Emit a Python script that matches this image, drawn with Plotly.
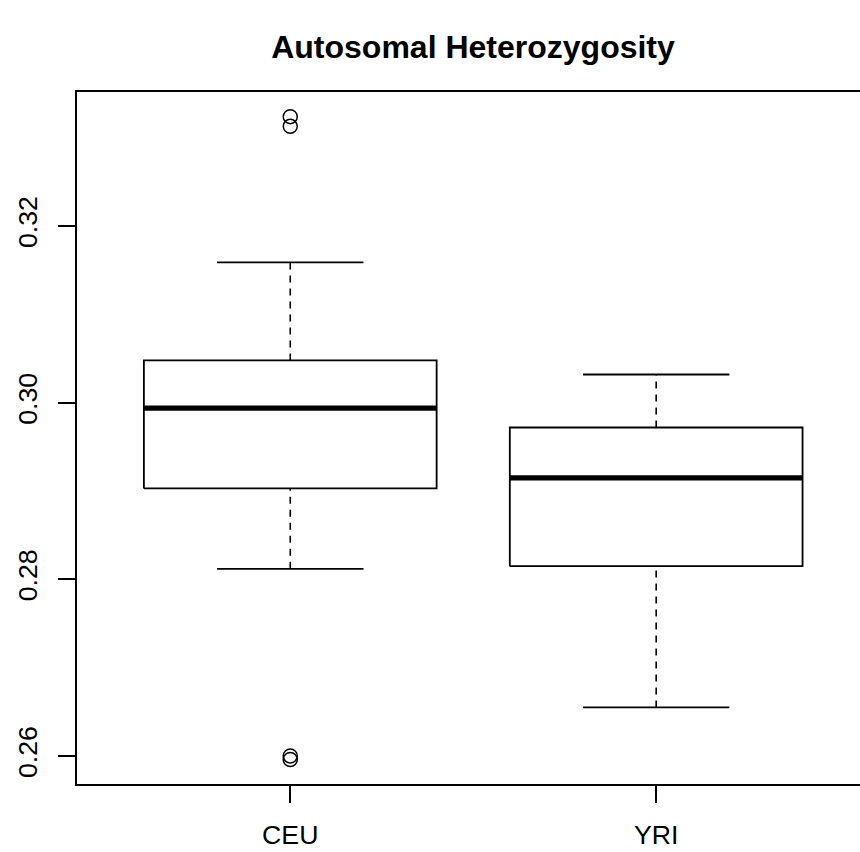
import plotly.graph_objects as go

# ---- data ----
groups = ["CEU", "YRI"]
positions = [1, 2]
q1 = [0.2903, 0.2815]
median = [0.2994, 0.2915]
q3 = [0.3048, 0.2972]
lower_whisker = [0.2812, 0.2655]
upper_whisker = [0.3159, 0.3032]
outlier_group = [1, 1, 1, 1]
outlier_values = [0.3324, 0.3313, 0.2600, 0.2596]
y_ticks = [0.26, 0.28, 0.30, 0.32]

BOX_HALF = 0.4
CAP_HALF = 0.2
FONT = "Liberation Sans, Arial, Helvetica, sans-serif"

fig = go.Figure()

for pos, a, m, b, lo, hi in zip(positions, q1, median, q3, lower_whisker, upper_whisker):
    # whiskers (dashed)
    fig.add_trace(go.Scatter(x=[pos, pos], y=[b, hi], mode="lines",
                             line=dict(color="black", width=1.6, dash="7px,6px"),
                             showlegend=False, hoverinfo="skip"))
    fig.add_trace(go.Scatter(x=[pos, pos], y=[lo, a], mode="lines",
                             line=dict(color="black", width=1.6, dash="7px,6px"),
                             showlegend=False, hoverinfo="skip"))
    # caps
    for v in (lo, hi):
        fig.add_trace(go.Scatter(x=[pos - CAP_HALF, pos + CAP_HALF], y=[v, v], mode="lines",
                                 line=dict(color="black", width=1.8),
                                 showlegend=False, hoverinfo="skip"))
    # box
    fig.add_trace(go.Scatter(x=[pos - BOX_HALF, pos + BOX_HALF, pos + BOX_HALF, pos - BOX_HALF, pos - BOX_HALF],
                             y=[a, a, b, b, a], mode="lines",
                             line=dict(color="black", width=1.8),
                             fill="toself", fillcolor="white",
                             showlegend=False, hoverinfo="skip"))
    # median
    fig.add_trace(go.Scatter(x=[pos - BOX_HALF, pos + BOX_HALF], y=[m, m], mode="lines",
                             line=dict(color="black", width=5.3),
                             showlegend=False, hoverinfo="skip"))

fig.add_trace(go.Scatter(x=outlier_group, y=outlier_values, mode="markers",
                         marker=dict(symbol="circle-open", size=14, color="black",
                                     line=dict(width=1.5, color="black")),
                         showlegend=False, hoverinfo="skip"))

fig.update_layout(
    width=860, height=852,
    margin=dict(l=77, r=0, t=92, b=68),
    paper_bgcolor="white", plot_bgcolor="white",
    font=dict(family=FONT, color="black", size=26.7),
    title=dict(text="<b>Autosomal Heterozygosity</b>", x=473 / 860, xanchor="center",
               xref="container", y=1 - 47 / 852, yanchor="middle", yref="container",
               font=dict(family=FONT, size=32, color="black")),
    xaxis=dict(range=[0.4172, 2.557], tickvals=positions, ticktext=groups,
               ticks="outside", ticklen=17, tickwidth=2, tickcolor="black",
               ticklabelstandoff=9,
               showline=True, linewidth=2, linecolor="black", mirror=True,
               showgrid=False, zeroline=False, tickfont=dict(size=26.7)),
    yaxis=dict(range=[0.25683, 0.33519], tickvals=y_ticks,
               ticktext=[f"{v:.2f}" for v in y_ticks], tickangle=-90,
               ticks="outside", ticklen=17, tickwidth=2, tickcolor="black",
               ticklabelstandoff=10,
               showline=True, linewidth=2, linecolor="black",
               showgrid=False, zeroline=False, tickfont=dict(size=26.7)),
)

fig.write_html("out.html", config={"displayModeBar": False},
               post_script="document.body.style.margin='0';")
